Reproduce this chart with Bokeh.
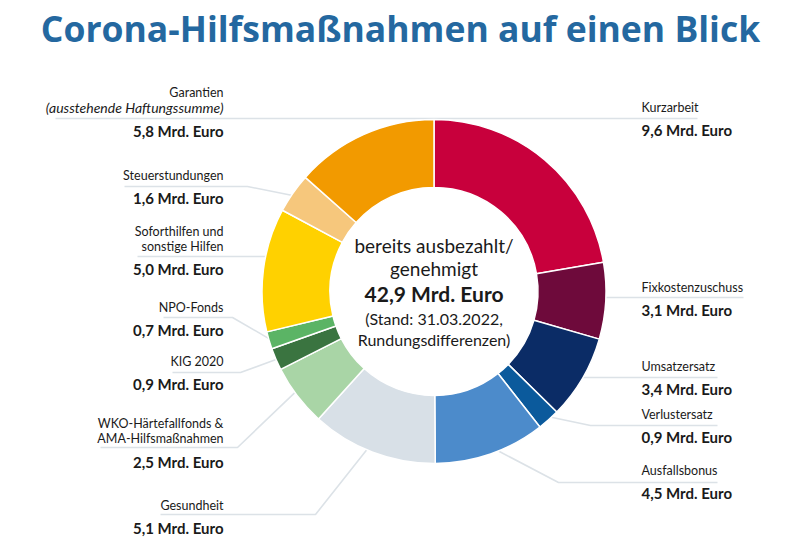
import numpy as np
from bokeh.plotting import figure
from bokeh.models import Range1d, ColumnDataSource
from bokeh.core.properties import value
from bokeh.embed import file_html
from bokeh.resources import INLINE

# ---------------- data ----------------
categories = ["Kurzarbeit", "Fixkostenzuschuss", "Umsatzersatz", "Verlustersatz",
              "Ausfallsbonus", "Gesundheit", "WKO-Härtefallfonds & AMA-Hilfsmaßnahmen",
              "KIG 2020", "NPO-Fonds", "Soforthilfen und sonstige Hilfen",
              "Steuerstundungen", "Garantien"]
values_bn = [9.6, 3.1, 3.4, 0.9, 4.5, 5.1, 2.5, 0.9, 0.7, 5.0, 1.6, 5.8]
label_lines = [["Kurzarbeit"], ["Fixkostenzuschuss"], ["Umsatzersatz"], ["Verlustersatz"],
               ["Ausfallsbonus"], ["Gesundheit"], ["WKO-Härtefallfonds &", "AMA-Hilfsmaßnahmen"],
               ["KIG 2020"], ["NPO-Fonds"], ["Soforthilfen und", "sonstige Hilfen"],
               ["Steuerstundungen"], ["Garantien", "(ausstehende Haftungssumme)"]]
value_labels = ["9,6 Mrd. Euro", "3,1 Mrd. Euro", "3,4 Mrd. Euro", "0,9 Mrd. Euro",
                "4,5 Mrd. Euro", "5,1 Mrd. Euro", "2,5 Mrd. Euro", "0,9 Mrd. Euro",
                "0,7 Mrd. Euro", "5,0 Mrd. Euro", "1,6 Mrd. Euro", "5,8 Mrd. Euro"]
total_label = "42,9 Mrd. Euro"
colors = ["#C8003C", "#6E0A3B", "#0B2C66", "#0B5A9C", "#4C8BCB", "#D8E0E7",
          "#A9D5A6", "#3A7440", "#5BB465", "#FFD100", "#F6C77C", "#F29A00"]

# ---------------- layout ----------------
W, H = 800, 542
def Y(py):  # page pixel y -> data y
    return H - py

CX, CY = 433.5, Y(291)
R_OUT, R_IN = 172, 104

# per-slice label layout: side, line y (page px), line outer x, elbow x (None=anchor), anchor angle (deg cw from 12h)
side = ["R", "R", "R", "R", "R", "L", "L", "L", "L", "L", "L", "L"]
line_y = [118, 297, 377, 425, 482, 514, 447, 372, 317, 256, 186, 118]
line_outer = [697, 743, 717, 717, 717, 160, 100, 172, 163, 137, 124, 55]
elbow_x = [None, None, None, 590, 558, 315, 237, 240, 232, None, 247, None]
anchor_deg = [0, 92, 120, 137, 158, 203, 234, 246.7, 254.2, 281.5, 304, 0]
label_y = [[107], [287], [366], [414], [470], [505], [423, 438], [361], [307], [231, 246], [175], [92, 107]]
value_y = [129, 309, 388, 436, 492, 527, 461, 383, 329, 268, 197, 130]
X_LEFT_TXT, X_RIGHT_TXT = 223, 641

p = figure(width=W, height=H, output_backend="svg", toolbar_location=None,
           x_range=Range1d(0, W), y_range=Range1d(0, H), min_border=0)
p.axis.visible = False
p.grid.visible = False
p.outline_line_color = None
p.background_fill_color = "white"
p.border_fill_color = "white"

# leader lines
LINE_COLOR = "#DCE2E7"
for i in range(len(values_bn)):
    a = np.deg2rad(90 - anchor_deg[i])
    ax, ay = CX + R_OUT * np.cos(a), CY + R_OUT * np.sin(a)
    yl = Y(line_y[i])
    if elbow_x[i] is None:
        xs = [ax, line_outer[i]]
        ys = [yl, yl]
    else:
        xs = [ax, elbow_x[i], line_outer[i]]
        ys = [ay, yl, yl]
    p.line(xs, ys, line_color=LINE_COLOR, line_width=1.6)

# donut
vals = np.array(values_bn)
cum = np.concatenate([[0], np.cumsum(vals)]) / vals.sum() * 2 * np.pi
src = ColumnDataSource(dict(start=np.pi / 2 - cum[1:], end=np.pi / 2 - cum[:-1], color=colors))
p.annular_wedge(x=CX, y=CY, inner_radius=R_IN, outer_radius=R_OUT,
                start_angle="start", end_angle="end", fill_color="color",
                line_color="white", line_width=1.5, source=src)

FONT = value("Lato")
# labels
for i in range(len(values_bn)):
    left = side[i] == "L"
    tx = X_LEFT_TXT if left else X_RIGHT_TXT
    align = "right" if left else "left"
    for j, (t, ty) in enumerate(zip(label_lines[i], label_y[i])):
        italic = t.startswith("(")
        p.text(x=[tx], y=[Y(ty)], text=[t], text_font=FONT,
               text_font_size="14px" if italic else "12.5px",
               text_font_style="italic" if italic else "normal",
               text_align=align, text_baseline="middle", text_color="#1a1a1a")
    p.text(x=[tx], y=[Y(value_y[i])], text=[value_labels[i]], text_font=FONT,
           text_font_size="15px", text_font_style="bold", text_align=align,
           text_baseline="middle", text_color="#1a1a1a")

# center text
center_lines = [("bereits ausbezahlt/", 245, "19px", "normal"),
                ("genehmigt", 268, "19px", "normal"),
                (total_label, 293, "21px", "bold"),
                ("(Stand: 31.03.2022,", 318, "16px", "normal"),
                ("Rundungsdifferenzen)", 339, "16px", "normal")]
for t, ty, fs, st in center_lines:
    p.text(x=[CX], y=[Y(ty)], text=[t], text_font=FONT, text_font_size=fs,
           text_font_style=st, text_align="center", text_baseline="middle",
           text_color="#1a1a1a")

# title
p.text(x=[400], y=[Y(27)], text=["Corona-Hilfsmaßnahmen auf einen Blick"],
       text_font=value("Open Sans"), text_font_size="35.5px", text_font_style="bold",
       text_align="center", text_baseline="middle", text_color="#2468A0")

open("out.html", "w").write(file_html(p, INLINE))
